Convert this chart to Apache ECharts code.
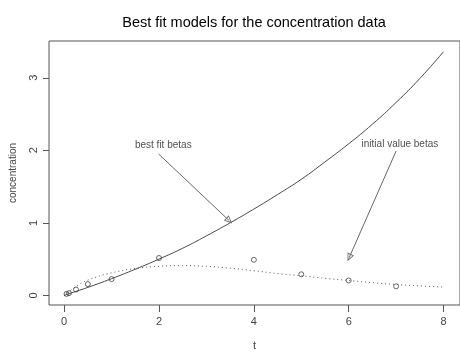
<!DOCTYPE html>
<html>
<head>
<meta charset="utf-8">
<script src="https://cdn.jsdelivr.net/npm/echarts@6/dist/echarts.min.js"></script>
<style>
  html, body { margin: 0; padding: 0; background: #fff; }
  #cn { width: 460px; height: 356px; }
</style>
</head>
<body>
<div id="cn"></div>
<script>
'use strict';

// observed concentration data
const obsT = [0.05, 0.1, 0.25, 0.5, 1, 2, 4, 5, 6, 7];
const obsC = [0.02, 0.03, 0.08, 0.155, 0.225, 0.515, 0.49, 0.29, 0.205, 0.125];

// model curves
const curveT = [0, 0.25, 0.5, 1, 1.5, 2, 2.5, 3, 3.5, 4, 4.5, 5, 5.5, 6, 6.5, 7, 7.5, 8];
const bestFit = [0, 0.055, 0.11, 0.23, 0.36, 0.5, 0.65, 0.82, 1.0, 1.19, 1.39, 1.6, 1.84, 2.09, 2.36, 2.66, 2.99, 3.36];
const initVal = [0, 0.12, 0.21, 0.31, 0.37, 0.4, 0.41, 0.4, 0.375, 0.34, 0.3, 0.27, 0.235, 0.205, 0.175, 0.15, 0.13, 0.115];

// annotations: label, label position, arrow start, arrow tip
const noteText = ['best fit betas', 'initial value betas'];
const notePos = [[2.09, 2.07], [7.08, 2.08]];
const arrowFrom = [[1.99, 1.95], [7.0, 1.99]];
const arrowTo = [[3.48, 1.03], [6.01, 0.52]];

const xTicks = [0, 2, 4, 6, 8];
const yTicks = [0, 1, 2, 3];

const FONT = '"Liberation Sans", Arial, sans-serif';
const zip = (a, b) => a.map((v, i) => [v, b[i]]);

// hollow arrow head (outer triangle minus inner one)
const OPEN_HEAD = 'path://M5 0 L10 10 L0 10 Z M5 3 L1.6 8.8 L8.4 8.8 Z';

const chart = echarts.init(document.getElementById('cn'));

const option = {
    animation: false,
    textStyle: { fontFamily: FONT },
    title: {
        text: 'Best fit models for the concentration data',
        left: 249,
        textAlign: 'center',
        top: 10,
        textStyle: { fontSize: 14.5, fontWeight: 'normal', color: '#000', fontFamily: FONT }
    },
    grid: {
        left: 46,
        top: 41,
        width: 416,
        bottom: 42,
        show: true,
        borderColor: '#555',
        borderWidth: 1
    },
    xAxis: {
        type: 'value',
        min: -0.32,
        max: 8.347,
        name: 't',
        nameLocation: 'middle',
        nameGap: 35,
        nameTextStyle: { fontSize: 11, color: '#444', fontFamily: FONT },
        axisLine: { show: false, onZero: false },
        splitLine: { show: false },
        axisTick: { show: true, length: 7, inside: false, customValues: xTicks, lineStyle: { color: '#555' } },
        axisLabel: { customValues: xTicks, margin: 11, fontSize: 11, color: '#444', fontFamily: FONT }
    },
    yAxis: {
        type: 'value',
        min: -0.133,
        max: 3.507,
        name: 'concentration',
        nameLocation: 'middle',
        nameGap: 31,
        nameTextStyle: { fontSize: 10, color: '#444', fontFamily: FONT },
        axisLine: { show: false, onZero: false },
        splitLine: { show: false },
        axisTick: { show: true, length: 6, inside: false, customValues: yTicks, lineStyle: { color: '#555' } },
        axisLabel: { customValues: yTicks, rotate: 90, margin: 10, fontSize: 11, color: '#444', fontFamily: FONT }
    },
    series: [
        {
            name: 'best fit',
            type: 'line',
            data: zip(curveT, bestFit),
            smooth: true,
            showSymbol: false,
            lineStyle: { color: '#333', width: 0.9 },
            markLine: {
                silent: true,
                symbol: ['none', OPEN_HEAD],
                symbolSize: [7, 8],
                label: { show: false },
                lineStyle: { color: '#666', width: 1, type: 'solid' },
                data: arrowFrom.map((p, i) => [{ coord: p }, { coord: arrowTo[i] }])
            }
        },
        {
            name: 'initial value',
            type: 'line',
            data: zip(curveT, initVal),
            smooth: true,
            showSymbol: false,
            lineStyle: { color: '#555', width: 1, type: [1, 3] }
        },
        {
            name: 'observed',
            type: 'scatter',
            data: zip(obsT, obsC),
            symbol: 'circle',
            symbolSize: 5,
            z: 5,
            itemStyle: { color: 'rgba(255,255,255,0)', borderColor: '#444', borderWidth: 1 }
        },
        {
            name: 'notes',
            type: 'scatter',
            symbolSize: 0,
            data: notePos.map((p, i) => ({ value: p, name: noteText[i] })),
            label: {
                show: true,
                position: 'inside',
                formatter: '{b}',
                fontSize: 10,
                color: '#222',
                fontFamily: FONT
            }
        }
    ]
};

chart.setOption(option);
</script>
</body>
</html>
